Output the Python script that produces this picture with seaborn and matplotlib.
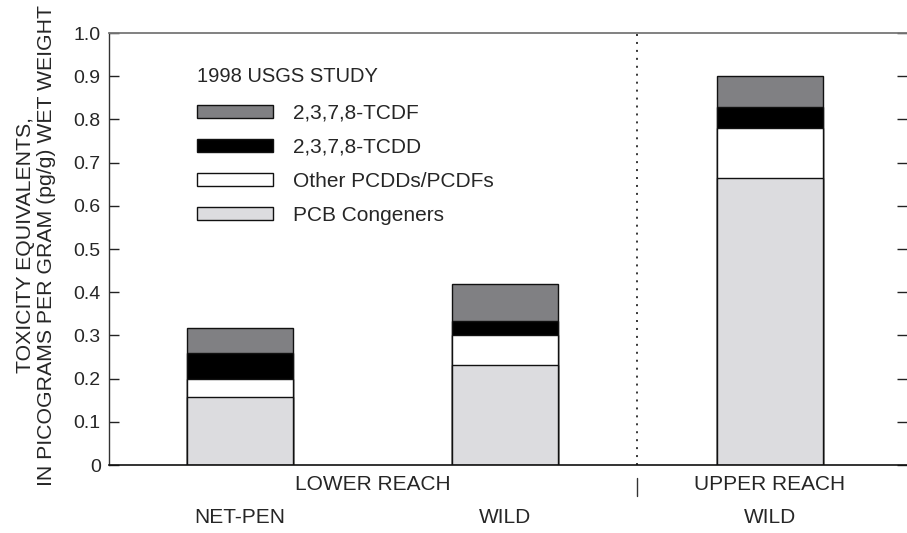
import matplotlib
matplotlib.use("Agg")
import matplotlib.pyplot as plt
import seaborn as sns
import pandas as pd
from matplotlib.patches import Patch

# ---- data ----
groups = ["NET-PEN", "WILD ", "WILD"]
pcb = [0.157, 0.231, 0.664]
other = [0.042, 0.071, 0.115]
tcdd = [0.060, 0.032, 0.050]
tcdf = [0.059, 0.085, 0.071]
reach_labels = ["LOWER REACH", "UPPER REACH"]
legend_title = "1998 USGS STUDY"
series_names = ["2,3,7,8-TCDF", "2,3,7,8-TCDD", "Other PCDDs/PCDFs", "PCB Congeners"]
yticks = [0, 0.1, 0.2, 0.3, 0.4, 0.5, 0.6, 0.7, 0.8, 0.9, 1.0]
ytick_labels = ["0", "0.1", "0.2", "0.3", "0.4", "0.5", "0.6", "0.7", "0.8", "0.9", "1.0"]

colors = {"2,3,7,8-TCDF": "#808083", "2,3,7,8-TCDD": "#000000",
          "Other PCDDs/PCDFs": "#ffffff", "PCB Congeners": "#dcdcdf"}

sns.set_style("white")
plt.rcParams["font.family"] = ["Liberation Sans", "DejaVu Sans"]

df = pd.DataFrame({"group": groups, "pcb": pcb, "other": other, "tcdd": tcdd, "tcdf": tcdf})
df["l1"] = df["pcb"]
df["l2"] = df["l1"] + df["other"]
df["l3"] = df["l2"] + df["tcdd"]
df["l4"] = df["l3"] + df["tcdf"]

fig = plt.figure(figsize=(9.07, 5.33), dpi=100)
ax = fig.add_axes([109 / 907, 68 / 533, 798 / 907, 432 / 533])

layers = [("l4", "2,3,7,8-TCDF"), ("l3", "2,3,7,8-TCDD"),
          ("l2", "Other PCDDs/PCDFs"), ("l1", "PCB Congeners")]
for col, name in layers:
    sns.barplot(data=df, x="group", y=col, order=groups, color=colors[name],
                width=0.40, edgecolor="#111111", linewidth=1.0, saturation=1,
                ax=ax, errorbar=None)

ax.set_xlim(-0.494, 2.517)
ax.set_ylim(0, 1.0)
ax.set_yticks(yticks)
ax.set_yticklabels(ytick_labels, fontsize=14)
ax.set_xticks([])
ax.set_xlabel("")
ax.set_ylabel("TOXICITY EQUIVALENTS,\nIN PICOGRAMS PER GRAM (pg/g) WET WEIGHT",
              fontsize=15.3, multialignment="center", linespacing=1.17)
ax.yaxis.set_label_coords(-0.066, 0.509)

ax.spines["right"].set_visible(False)
ax.spines["top"].set_color("#777777")
ax.spines["top"].set_linewidth(1.3)
ax.spines["left"].set_color("#333333")
ax.spines["bottom"].set_color("#111111")
ax.spines["left"].set_linewidth(1.0)
ax.spines["bottom"].set_linewidth(1.2)
ax.tick_params(axis="y", which="both", left=True, right=True, direction="in",
               length=7, width=1.0, color="#222222", pad=6)

# dotted separator between reaches
ax.axvline(1.5, color="black", linestyle=(0, (1.3, 3.9)), linewidth=1.1)

# bottom group labels
tr = ax.get_xaxis_transform()
ax.text(0.5, -0.045, reach_labels[0], transform=tr, ha="center", va="center", fontsize=15)
ax.text(2.0, -0.045, reach_labels[1], transform=tr, ha="center", va="center", fontsize=15)
ax.plot([1.5, 1.5], [-0.030, -0.072], transform=tr, color="#333333", lw=1.0, clip_on=False)
for i, g in enumerate(groups):
    ax.text(i, -0.1215, g.strip(), transform=tr, ha="center", va="center", fontsize=15)

handles = [Patch(facecolor=colors[n], edgecolor="#111111", linewidth=1.0) for n in series_names]
leg = ax.legend(handles, series_names, title=legend_title, loc="upper left",
                bbox_to_anchor=(0.0867, 0.965), frameon=False, fontsize=15,
                title_fontsize=14.5, handlelength=3.65, handleheight=0.58,
                handletextpad=0.96, labelspacing=0.72, alignment="left")
leg._legend_box.sep = 13

fig.savefig("out.png", dpi=100)
